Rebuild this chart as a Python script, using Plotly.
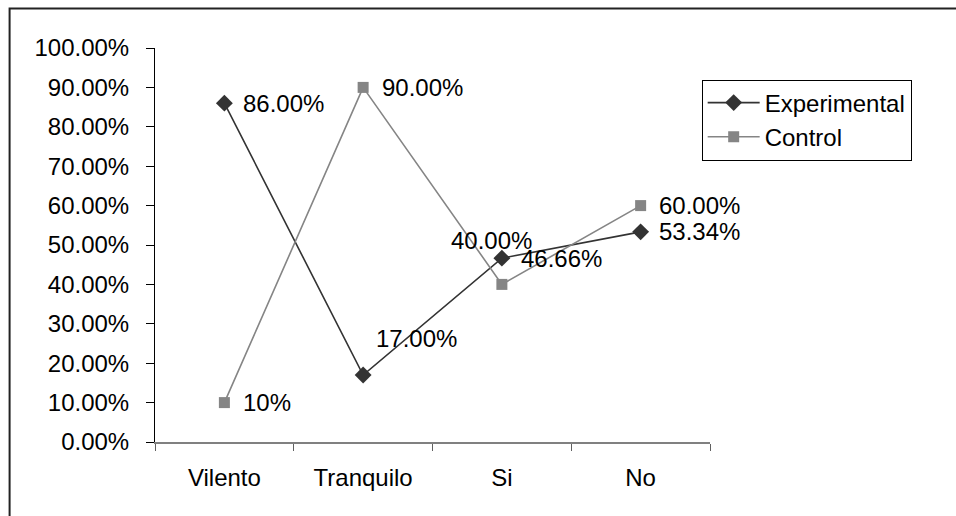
import plotly.graph_objects as go

# Categories and series values (fractions of 1)
categories = ["Vilento", "Tranquilo", "Si", "No"]
experimental = [0.86, 0.17, 0.4666, 0.5334]
control = [0.10, 0.90, 0.40, 0.60]
experimental_labels = ["86.00%", "17.00%", "46.66%", "53.34%"]
control_labels = ["10%", "90.00%", "40.00%", "60.00%"]

FONT = "Liberation Sans, Arial, sans-serif"
FS = 24
EXP_COLOR = "#333333"
CTL_COLOR = "#858585"

fig = go.Figure()
fig.add_trace(go.Scatter(
    x=categories, y=experimental, name="Experimental", mode="lines+markers",
    line=dict(color=EXP_COLOR, width=1.6),
    marker=dict(symbol="diamond", size=13, color=EXP_COLOR),
))
fig.add_trace(go.Scatter(
    x=categories, y=control, name="Control", mode="lines+markers",
    line=dict(color=CTL_COLOR, width=1.6),
    marker=dict(symbol="square", size=11, color=CTL_COLOR),
))

# Data labels: (xshift, yshift, xanchor) per point
exp_pos = [(17, 0, "left"), (11, 37, "left"), (17, 0, "left"), (16, 0, "left")]
ctl_pos = [(17, 0, "left"), (17, 0, "left"), (-10, 44, "center"), (16, 0, "left")]

annotations = []
for series, labels, pos in ((experimental, experimental_labels, exp_pos),
                            (control, control_labels, ctl_pos)):
    for cat, val, lab, (dx, dy, xa) in zip(categories, series, labels, pos):
        annotations.append(dict(
            x=cat, y=val, xref="x", yref="y", text=lab, showarrow=False,
            xanchor=xa, yanchor="middle", xshift=dx, yshift=dy,
            font=dict(family=FONT, size=FS, color="black"),
        ))

fig.update_layout(
    width=956, height=516,
    margin=dict(l=155, r=246, t=48, b=74),
    paper_bgcolor="white", plot_bgcolor="white",
    font=dict(family=FONT, size=FS, color="black"),
    showlegend=True,
    legend=dict(
        x=0.985, y=0.92, xanchor="left", yanchor="top",
        bordercolor="black", borderwidth=1, bgcolor="white",
        font=dict(family=FONT, size=FS, color="black"),
        itemwidth=52, tracegroupgap=0,
    ),
    annotations=annotations,
    shapes=[dict(
        type="rect", xref="paper", yref="paper",
        x0=-0.262, x1=1.6, y0=-0.6, y1=1.1,
        line=dict(color="#222222", width=2), fillcolor="rgba(0,0,0,0)",
        layer="below",
    )],
)

fig.update_xaxes(
    type="category", range=[-0.5, 3.5],
    showline=True, linecolor="#808080", linewidth=2,
    ticks="outside", tickson="boundaries", ticklen=7, tickcolor="#606060",
    showgrid=False, zeroline=False, ticklabelstandoff=13,
    tickfont=dict(family=FONT, size=FS, color="black"),
)
fig.update_yaxes(
    range=[0, 1], tickvals=[i / 10 for i in range(11)], tickformat=".2%",
    showline=True, linecolor="black", linewidth=1,
    ticks="outside", ticklen=8, tickcolor="black",
    showgrid=False, zeroline=False, ticklabelstandoff=12,
    tickfont=dict(family=FONT, size=FS, color="black"),
)

fig.write_html("out.html")
